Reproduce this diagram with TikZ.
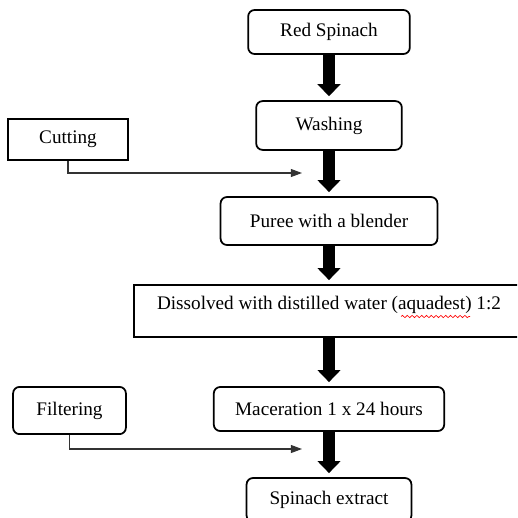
\documentclass[tikz,border=0pt]{standalone}
\usepackage{fontspec}
\setmainfont{Liberation Serif}
\usetikzlibrary{arrows.meta,decorations.pathmorphing}

\begin{document}
\begin{tikzpicture}[x=0.625pt, y=-0.625pt,
	font=\fontsize{12}{14}\selectfont,
	stepbox/.style={draw, line width=1.1pt, rounded corners=4pt, inner sep=0pt},
	plainbox/.style={draw, line width=1.1pt, inner sep=0pt},
	bigarrow/.style={line width=7.5pt, -{Triangle[width=14pt 0 0, length=7.5pt 0 0]}, shorten >=2.5pt},
	sidearrow/.style={line width=0.7pt, draw=black!80, -{Triangle[width=5pt, length=7pt]}}]
	\useasboundingbox (0,0) rectangle (517,518);
	\clip (0,0) rectangle (517,518);
	% main line
	\node[stepbox, minimum width=101pt, minimum height=27.5pt] (spinach) at (329,32) {Red Spinach};
	\node[stepbox, minimum width=91pt, minimum height=30.5pt] (washing) at (329,125.5) {Washing};
	\node[stepbox, minimum width=135.5pt, minimum height=30pt] (puree) at (329,221) {Puree with a blender};
	\node[plainbox, minimum width=244pt, minimum height=32.5pt, text height=9pt, text depth=11pt] (dissolve) at (329,311) {Dissolved with distilled water (aquadest) 1:2};
	\node[stepbox, minimum width=144pt, minimum height=27.5pt] (maceration) at (329,409) {Maceration 1 x 24 hours};
	\node[stepbox, minimum width=103pt, minimum height=27.5pt] (extract) at (329,500) {Spinach extract};
	% side steps
	\node[plainbox, minimum width=75pt, minimum height=25.5pt] (cutting) at (68,139.5) {Cutting};
	\node[stepbox, minimum width=70.5pt, minimum height=29.5pt] (filtering) at (69.5,410.5) {Filtering};
	\coordinate (cutend) at (302,173);
	\coordinate (filterend) at (302,449);
	\draw[bigarrow] (spinach.south) -- (washing.north);
	\draw[bigarrow] (washing.south) -- (puree.north);
	\draw[bigarrow] (puree.south) -- (dissolve.north);
	\draw[bigarrow] (dissolve.south) -- (maceration.north);
	\draw[bigarrow] (maceration.south) -- (extract.north);
	\draw[sidearrow] (cutting.south) |- (cutend);
	\draw[sidearrow] (filtering.south) |- (filterend);
	% spelling mark
	\draw[red, line width=0.4pt, decorate, decoration={snake, amplitude=0.7pt, segment length=3pt}] (401,316.5) -- (470,316.5);
\end{tikzpicture}
\end{document}
